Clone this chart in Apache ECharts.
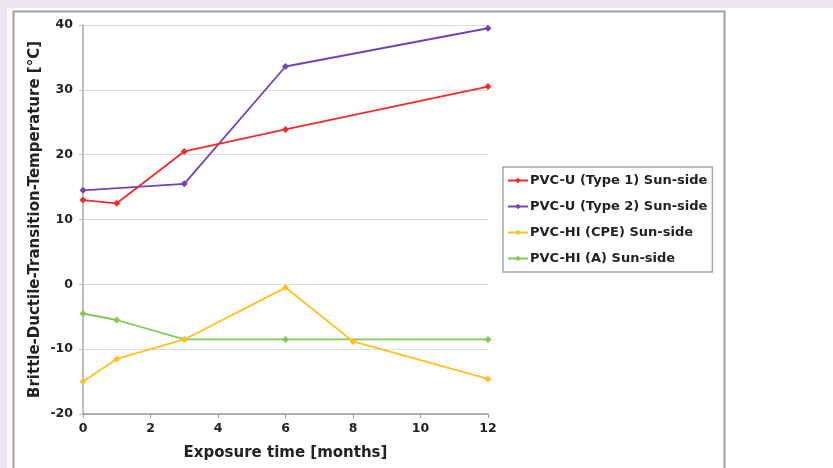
<!DOCTYPE html>
<html>
<head>
<meta charset="utf-8">
<script src="https://cdn.jsdelivr.net/npm/echarts@6/dist/echarts.min.js"></script>
<style>
  html, body { margin: 0; padding: 0; background: #fff; }
  #chart { width: 833px; height: 468px; }
</style>
</head>
<body>
<div id="chart"></div>
<script>
// exposure time in months, one array per series (x, y pairs built below)
var seriesNames = [
    'PVC-U (Type 1) Sun-side',
    'PVC-U (Type 2) Sun-side',
    'PVC-HI (CPE) Sun-side',
    'PVC-HI (A) Sun-side'
];
var type1Months = [0, 1, 3, 6, 12];
var type1Temp   = [13, 12.5, 20.5, 23.9, 30.5];
var type2Months = [0, 3, 6, 12];
var type2Temp   = [14.5, 15.5, 33.6, 39.5];
var cpeMonths   = [0, 1, 3, 6, 8, 12];
var cpeTemp     = [-15, -11.5, -8.5, -0.5, -8.8, -14.6];
var aMonths     = [0, 1, 3, 6, 12];
var aTemp       = [-4.5, -5.5, -8.5, -8.5, -8.5];
var colors = ['#f22a2a', '#7442b4', '#ffc020', '#84c857'];

function pairs(xs, ys) {
    return xs.map(function (x, i) { return [x, ys[i]]; });
}

var chart = echarts.init(document.getElementById('chart'));
var font = '"DejaVu Sans", Arial, sans-serif';

var lineSeries = [
    pairs(type1Months, type1Temp),
    pairs(type2Months, type2Temp),
    pairs(cpeMonths, cpeTemp),
    pairs(aMonths, aTemp)
].map(function (d, i) {
    return {
        name: seriesNames[i],
        type: 'line',
        data: d,
        symbol: 'diamond',
        symbolSize: 7,
        color: colors[i],
        lineStyle: { width: 1.8, color: colors[i] },
        itemStyle: { color: colors[i] },
        z: 10 - i
    };
});

chart.setOption({
    backgroundColor: '#fff',
    animation: false,
    graphic: [
        { type: 'rect', shape: { x: 0, y: 0, width: 833, height: 8 }, style: { fill: '#ede4f1' }, silent: true },
        { type: 'rect', shape: { x: 0, y: 0, width: 7, height: 468 }, style: { fill: '#ede4f1' }, silent: true },
        { type: 'rect', shape: { x: 13.5, y: 11.5, width: 711, height: 480 }, style: { fill: 'none', stroke: '#a0a0a0', lineWidth: 2 }, silent: true }
    ],
    grid: { left: 83, right: 345, top: 25, bottom: 54 },
    legend: {
        orient: 'vertical',
        left: 503,
        top: 167,
        itemWidth: 20,
        itemHeight: 7,
        itemGap: 13,
        padding: [7, 5, 7, 4],
        borderColor: '#a8a8a8',
        borderWidth: 1.5,
        textStyle: { fontFamily: font, fontWeight: 'bold', fontSize: 13, color: '#222', padding: [0, 0, 0, -3] },
        data: seriesNames
    },
    xAxis: {
        type: 'value',
        min: 0,
        max: 12,
        interval: 2,
        name: 'Exposure time [months]',
        nameLocation: 'middle',
        nameGap: 32,
        nameTextStyle: { fontFamily: font, fontWeight: 'bold', fontSize: 15, color: '#222' },
        axisLine: { show: true, onZero: false, lineStyle: { color: '#999', width: 1.5 } },
        axisTick: { show: true, length: 4, lineStyle: { color: '#999' } },
        axisLabel: { fontFamily: font, fontWeight: 'bold', fontSize: 12.5, color: '#222', margin: 8 },
        splitLine: { show: false }
    },
    yAxis: {
        type: 'value',
        min: -20,
        max: 40,
        interval: 10,
        name: 'Brittle-Ductile-Transition-Temperature [°C]',
        nameLocation: 'middle',
        nameGap: 40,
        nameTextStyle: { fontFamily: font, fontWeight: 'bold', fontSize: 15, color: '#222' },
        axisLine: { show: true, lineStyle: { color: '#aaa', width: 1.5 } },
        axisTick: { show: true, length: 4, lineStyle: { color: '#bbb' } },
        axisLabel: { fontFamily: font, fontWeight: 'bold', fontSize: 12.5, color: '#222', margin: 10 },
        splitLine: { show: true, lineStyle: { color: '#dcdcdc', width: 1.2 } }
    },
    series: lineSeries
});
</script>
</body>
</html>
